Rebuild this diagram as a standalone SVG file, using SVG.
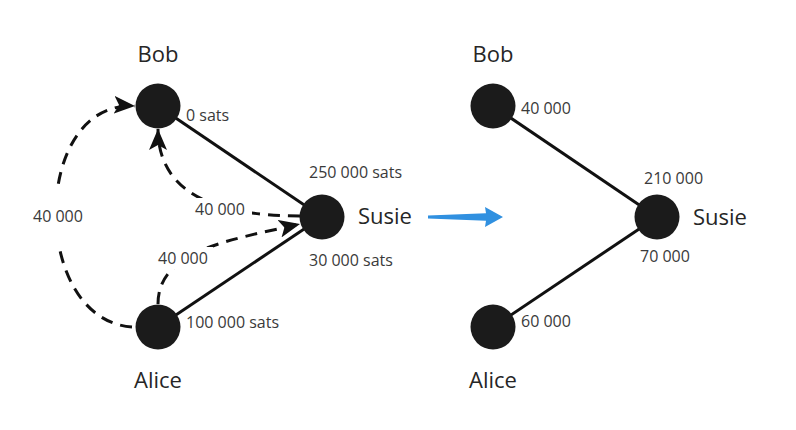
<svg xmlns="http://www.w3.org/2000/svg" width="796" height="430" viewBox="0 0 796 430">
<style>
.node{fill:#1b1b1b}
.name{font-family:"Open Sans","Liberation Sans",sans-serif;font-size:22px;fill:#262626}
.amt{font-family:"Open Sans","Liberation Sans",sans-serif;font-size:16px;fill:#3a3a3a}
.edge{stroke:#111;stroke-width:3;fill:none}
.pay{stroke:#111;stroke-width:3;fill:none;stroke-dasharray:12 8;marker-end:url(#ah)}
.bg{fill:#fff}
</style>
<defs>
<marker id="ah" markerUnits="userSpaceOnUse" markerWidth="22" markerHeight="18" refX="21" refY="9" orient="auto">
<path d="M0,0 L21,9 L0,18 L5,9 Z" fill="#111"/>
</marker>
</defs>
<rect width="796" height="430" fill="#fff"/>
<g id="connectors">
<line class="edge" x1="158" y1="106" x2="322" y2="217"/>
<line class="edge" x1="158" y1="327" x2="322" y2="217"/>
<line class="edge" x1="493" y1="106" x2="657" y2="217"/>
<line class="edge" x1="493" y1="327" x2="657" y2="217"/>
<path class="pay" d="M132,327 C30,320 30,100 135,106"/>
<path class="pay" d="M300,216 C210,216 158,190 158,129"/>
<path class="pay" d="M158,304 C158,250 230,240 300,224"/>
<path d="M428,215.6 L486,213.2 L485,207 L503,217 L485,227 L486,220.8 L428,218.4 Z" fill="#3090e0"/>
</g>
<g id="labels-bg">
<rect class="bg" x="30" y="189" width="56" height="55"/>
<rect class="bg" x="188" y="198" width="64" height="22"/>
<rect class="bg" x="155" y="247" width="58" height="22"/>
</g>
<g id="bob-left"><circle class="node" cx="158" cy="106" r="22.5"/><text class="name" x="158" y="62" text-anchor="middle">Bob</text><text class="amt" x="186" y="121">0 sats</text></g>
<g id="alice-left"><circle class="node" cx="158" cy="327" r="22.5"/><text class="name" x="158" y="388" text-anchor="middle">Alice</text><text class="amt" x="186" y="327.5">100 000 sats</text></g>
<g id="susie-left"><circle class="node" cx="322" cy="217" r="22.5"/><text class="name" x="358" y="224">Susie</text><text class="amt" x="309" y="178">250 000 sats</text><text class="amt" x="309" y="266">30 000 sats</text></g>
<g id="pay-labels">
<text class="amt" x="33" y="221.5">40 000</text>
<text class="amt" x="195" y="215">40 000</text>
<text class="amt" x="158" y="264">40 000</text>
</g>
<g id="bob-right"><circle class="node" cx="493" cy="106" r="22.5"/><text class="name" x="493" y="62" text-anchor="middle">Bob</text><text class="amt" x="521" y="114">40 000</text></g>
<g id="alice-right"><circle class="node" cx="493" cy="327" r="22.5"/><text class="name" x="493" y="388" text-anchor="middle">Alice</text><text class="amt" x="521" y="327">60 000</text></g>
<g id="susie-right"><circle class="node" cx="657" cy="217" r="22.5"/><text class="name" x="693" y="225">Susie</text><text class="amt" x="644" y="184">210 000</text><text class="amt" x="640" y="261.5">70 000</text></g>
</svg>
